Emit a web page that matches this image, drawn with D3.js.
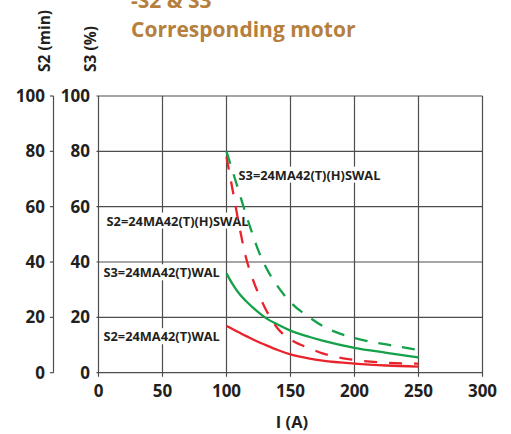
<!DOCTYPE html>
<html><head><meta charset="utf-8">
<script src="https://cdn.jsdelivr.net/npm/d3@7"></script>
<style>
html,body{margin:0;padding:0;background:#fff;}
svg{display:block;font-family:"Open Sans",sans-serif;}
</style></head>
<body><svg id="c" width="511" height="434"></svg>
<script>
// Data
const xTicks = [0, 50, 100, 150, 200, 250, 300];
const yTicks = [0, 20, 40, 60, 80, 100];
const currentI = [100, 105, 110, 115, 120, 125, 130, 140, 150, 165, 175, 200, 225, 250];
const s2TWAL  = [16.9, 15.7, 14.5, 13.3, 12.2, 11.1, 10.1, 8.2, 6.6, 5.1, 4.4, 3.3, 2.6, 2.2];
const s3TWAL  = [35.9, 31.8, 28.5, 26.0, 23.8, 21.8, 20.0, 17.4, 15.2, 12.9, 11.6, 9.0, 7.2, 5.5];
const s2HSWAL = [78, 65.5, 53, 42, 34.5, 28.5, 23.5, 16, 12, 8.8, 7.0, 4.6, 3.6, 3.3];
const s3HSWAL = [80, 72.5, 65, 57.5, 50.5, 44, 38.8, 31.2, 25.5, 19.9, 16.9, 12.5, 10.2, 8.2];
const seriesNames = ["S2=24MA42(T)WAL", "S3=24MA42(T)WAL", "S2=24MA42(T)(H)SWAL", "S3=24MA42(T)(H)SWAL"];
const labelPos = [[3.9, 13], [3.9, 36.1], [6.3, 54.8], [109.4, 71.4]];

const RED = "#e8232b", GREEN = "#15a04a", INK = "#231f20", GRID = "#4d4d4d";
const series = [
  {name: seriesNames[0], vals: s2TWAL, color: RED, dash: null},
  {name: seriesNames[1], vals: s3TWAL, color: GREEN, dash: null},
  {name: seriesNames[2], vals: s2HSWAL, color: RED, dash: "13,12"},
  {name: seriesNames[3], vals: s3HSWAL, color: GREEN, dash: "13,11"}
];

const svg = d3.select("#c");
const x = d3.scaleLinear().domain([0, 300]).range([98.5, 482.5]);
const y = d3.scaleLinear().domain([0, 100]).range([372.7, 96]);

// grid
const g = svg.append("g");
g.selectAll("line.v").data(xTicks).join("line")
  .attr("x1", d => x(d)).attr("x2", d => x(d))
  .attr("y1", y(100)).attr("y2", y(0) + 4)
  .attr("stroke", GRID).attr("stroke-width", 1.2);
g.selectAll("line.h").data(yTicks).join("line")
  .attr("x1", x(0) - 2).attr("x2", x(300))
  .attr("y1", d => y(d)).attr("y2", d => y(d))
  .attr("stroke", GRID).attr("stroke-width", 1.2);

// outer axis (S2)
const outerX = 53.5;
svg.append("line").attr("x1", outerX).attr("x2", outerX).attr("y1", y(100)).attr("y2", y(0))
  .attr("stroke", GRID).attr("stroke-width", 1.2);
svg.selectAll("line.ot").data(yTicks).join("line")
  .attr("x1", outerX - 3.5).attr("x2", outerX).attr("y1", d => y(d)).attr("y2", d => y(d))
  .attr("stroke", GRID).attr("stroke-width", 1.2);
svg.selectAll("text.ol").data(yTicks).join("text")
  .attr("x", 45).attr("y", d => y(d)).attr("dy", "0.36em")
  .attr("text-anchor", "end").attr("font-size", 17).attr("font-weight", 700).attr("fill", INK)
  .text(d => d);
// inner labels (S3)
svg.selectAll("text.il").data(yTicks).join("text")
  .attr("x", 90).attr("y", d => y(d)).attr("dy", "0.36em")
  .attr("text-anchor", "end").attr("font-size", 17).attr("font-weight", 700).attr("fill", INK)
  .text(d => d);
// x labels
svg.selectAll("text.xl").data(xTicks).join("text")
  .attr("x", d => x(d)).attr("y", 391).attr("dy", "0.36em")
  .attr("text-anchor", "middle").attr("font-size", 17).attr("font-weight", 700).attr("fill", INK)
  .text(d => d);
svg.append("text").attr("x", 292).attr("y", 422).attr("dy", "0.36em")
  .attr("text-anchor", "middle").attr("font-size", 16.5).attr("font-weight", 700).attr("fill", INK)
  .text("I (A)");

// axis titles
svg.append("text").attr("transform", "translate(50,72) rotate(-90)")
  .attr("font-size", 15.5).attr("font-weight", 700).attr("fill", INK).text("S2 (min)");
svg.append("text").attr("transform", "translate(96,72) rotate(-90)")
  .attr("font-size", 15.5).attr("font-weight", 700).attr("fill", INK).text("S3 (%)");

// title
const title = svg.append("text").attr("font-size", 21).attr("font-weight", 700).attr("fill", "#b5803e");
title.append("tspan").attr("x", 131).attr("y", 8).text("-S2 & S3");
title.append("tspan").attr("x", 131).attr("y", 37).text("Corresponding motor");

// labels with white background
series.forEach((s, i) => {
  const [lx, ly] = labelPos[i];
  const t = svg.append("text").attr("x", x(lx)).attr("y", y(ly)).attr("dy", "0.35em")
    .attr("font-size", 12.8).attr("font-weight", 700).attr("fill", INK).text(s.name);
  const bb = t.node().getBBox();
  svg.insert("rect", "text").attr("x", bb.x - 1).attr("y", bb.y + 1).attr("width", bb.width + 2).attr("height", bb.height - 2)
    .attr("fill", "#fff");
});

// lines
const line = d3.line().x((d, i) => x(currentI[i])).y(d => y(d)).curve(d3.curveMonotoneX);
series.forEach(s => {
  svg.append("path").attr("d", line(s.vals)).attr("fill", "none")
    .attr("stroke", s.color).attr("stroke-width", 2.3)
    .attr("stroke-dasharray", s.dash);
});
</script></body></html>
